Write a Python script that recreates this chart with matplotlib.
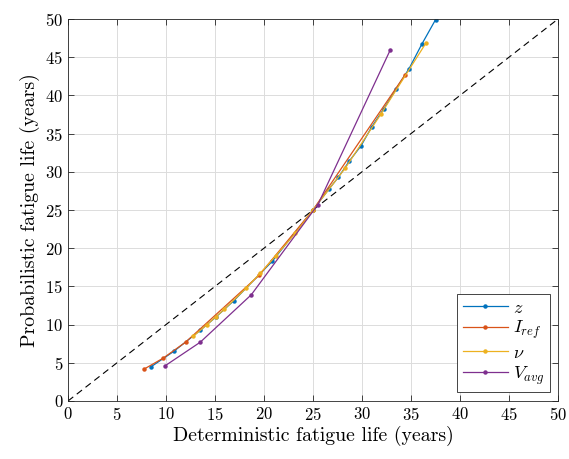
import matplotlib
matplotlib.use("Agg")
import matplotlib.pyplot as plt

plt.rcParams['font.family'] = 'serif'
plt.rcParams['font.serif'] = ['cmr10', 'DejaVu Serif']
plt.rcParams['mathtext.fontset'] = 'cm'
plt.rcParams['axes.formatter.use_mathtext'] = True

# Data
z_x = [8.5, 10.8, 13.5, 15.1, 16.9, 20.85, 25.0, 26.6, 27.6, 28.7, 29.9, 31.0, 32.2, 33.5, 34.8, 36.1, 37.5]
z_y = [4.5, 6.5, 9.25, 11.0, 13.1, 18.3, 25.0, 27.7, 29.3, 31.4, 33.4, 35.9, 38.2, 40.9, 43.5, 46.7, 49.9]

iref_x = [7.8, 9.7, 12.0, 19.5, 25.0, 34.4]
iref_y = [4.2, 5.6, 7.7, 16.45, 25.0, 42.7]

nu_x = [12.8, 14.15, 15.07, 15.95, 18.2, 19.6, 21.2, 23.2, 25.0, 28.3, 31.9, 36.5]
nu_y = [8.5, 9.95, 11.0, 12.0, 14.8, 16.7, 19.0, 21.95, 25.0, 30.5, 37.5, 46.8]

vavg_x = [9.9, 13.5, 18.7, 25.5, 32.9]
vavg_y = [4.6, 7.7, 13.9, 25.7, 46.0]

ref_line = [0, 50]

colors = ['#0072BD', '#D95319', '#EDB120', '#7E2F8E']
labels = ['$z$', '$I_{ref}$', '$\\nu$', '$V_{avg}$']

fig = plt.figure(figsize=(5.69, 4.59), dpi=100)
ax = fig.add_axes([0.1195, 0.1264, 0.8612, 0.8322])

ax.plot(ref_line, ref_line, color='black', linestyle=(0, (6, 4)), linewidth=0.8)
series = [(z_x, z_y), (iref_x, iref_y), (nu_x, nu_y), (vavg_x, vavg_y)]
handles = []
for (xs, ys), c, lab in zip(series, colors, labels):
    h, = ax.plot(xs, ys, color=c, linewidth=0.9, marker='o', markersize=2.2, label=lab)
    handles.append(h)

ax.set_xlim(0, 50)
ax.set_ylim(0, 50)
ax.set_xticks(range(0, 51, 5))
ax.set_yticks(range(0, 51, 5))
ax.grid(True, color='#dcdcdc', linewidth=0.7)
ax.set_axisbelow(True)
ax.tick_params(direction='in', top=True, right=True, labelsize=12, length=4, width=0.6, color='#262626')
for s in ax.spines.values():
    s.set_color('#262626')
    s.set_linewidth(0.6)

ax.set_xlabel('Deterministic fatigue life (years)', fontsize=14.3, labelpad=2)
ax.set_ylabel('Probabilistic fatigue life (years)', fontsize=14.3, labelpad=4)

leg = ax.legend(handles=handles, loc='lower right', fontsize=13, frameon=True, fancybox=False,
                edgecolor='#262626', framealpha=1, handlelength=2.5, borderpad=0.3,
                handletextpad=0.3, labelspacing=0.2, borderaxespad=0,
                bbox_to_anchor=(0.9837, 0.0236))
leg.get_frame().set_linewidth(0.6)

fig.savefig('out.png', dpi=100)
